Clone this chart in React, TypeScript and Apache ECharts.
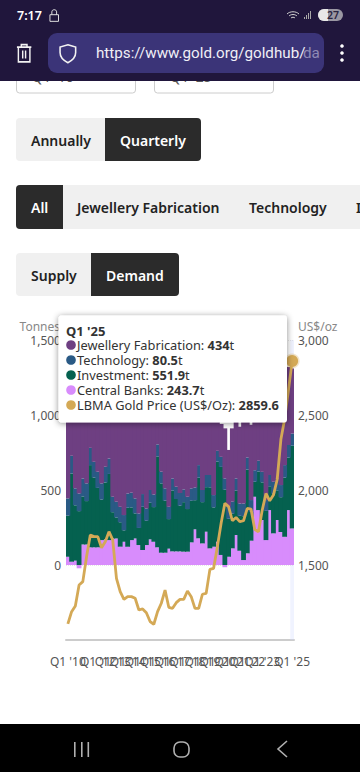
import React, { useEffect, useRef } from "react";
import * as echarts from "echarts";

const years = ["10","11","12","13","14","15","16","17","18","19","20","21","22","23","24"];
const quarters: string[] = [];
years.forEach((y) => ["Q1","Q2","Q3","Q4"].forEach((q) => quarters.push(`${q} '${y}`)));
quarters.push("Q1 '25");

const jewellery = [
  560,400,480,640, 560,480,480,540, 510,470,480,560, 620,640,620,660,
  590,570,540,640, 590,590,600,640, 490,480,500,600, 490,480,530,550,
  510,520,560,560, 530,530,500,560, 340,219,334,379, 489,490,512,560,
  480,502,560,590, 480,560,520,560, 480,450,440,520, 434,
];
const technology = [
  115,118,113,118, 120,118,115,105, 108,108,105,103, 103,105,103,102,
  96,98,100,97, 85,82,85,84, 80,78,82,82, 81,82,84,85,
  82,83,85,84, 81,81,82,82, 72,67,75,80, 80,81,82,85,
  81,79,77,72, 70,72,75,79, 79,81,83,84, 80.5,
];
const investment = [
  274,588,369,359, 320,289,548,465, 396,270,379,441, 175,140,163,76,
  259,218,167,114, 288,162,244,231, 606,462,347,197, 405,349,305,330,
  284,277,194,404, 275,297,407,262, 534,587,502,253, 231,296,233,292,
  558,192,100,257, 251,195,159,265, 198,232,395,350, 551.9,
];
const centralBanks = [
  55,22,29,-22, 137,137,118,118, 118,166,171,166, 177,177,122,155,
  122,166,177,133, 100,133,171,155, 118,82,82,109, 91,91,91,89,
  89,151,238,178, 144,222,111,122, 155,67,-15,55, 111,200,95,33,
  78,162,455,366, 300,166,366,211, 300,220,188,366, 243.7,
];
const goldPrice = [
  1107,1189,1227,1367, 1389,1555,1700,1689, 1689,1615,1655,1722, 1667,1411,1322,1271,
  1289,1289,1278,1200, 1207,1182,1123,1105, 1189,1245,1333,1218, 1211,1249,1271,1271,
  1327,1289,1211,1211, 1305,1311,1471,1478, 1622,1778,1911,1889, 1795,1817,1789,1795,
  1878,1873,1737,1722, 1866,1977,1928,1966, 2070,2338,2474,2663, 2859.6,
];

const PURPLE = "#6e3f82";
const BLUE = "#2a5a85";
const TEAL = "#05614f";
const PINK = "#d88cfc";
const GOLD = "#d4a956";
const FONT = '"Noto Sans", sans-serif';
const last = quarters.length - 1;

echarts.graphic.registerShape("trashIcon", echarts.graphic.extendPath("M2 5H22M8 5V2H16V5M4 5V23H20V5M10 9V19M14 9V19", {}));
echarts.graphic.registerShape("shieldIcon", echarts.graphic.extendPath("M12 1L22 4V11C22 17 18 21 12 24C6 21 2 17 2 11V4Z", {}));
echarts.graphic.registerShape("lockIcon", echarts.graphic.extendPath("M1 6H10V13H1ZM3 6V3C3 0 8 0 8 3V6", {}));
echarts.graphic.registerShape("wifiIcon", echarts.graphic.extendPath("M0 3C3 0 9 0 12 3M2 5C4 3 8 3 10 5M4 7C5 6 7 6 8 7", {}));

const rect = (x: number, y: number, w: number, h: number, fill: string, r: any = 0, extra: any = {}) => ({
  type: "rect", shape: { x, y, width: w, height: h, r }, style: { fill, ...extra }, z: 10,
});
const label = (text: string, x: number, y: number, fill: string, font = `600 14px ${FONT}`, z = 11, align = "left") => ({
  type: "text", x, y, z, style: { text, fill, font, textAlign: align, textVerticalAlign: "middle" },
});
const tipRow = (y: number, color: string, name: string, value: string, unit: string) => [
  { type: "circle", z: 101, shape: { cx: 71, cy: y, r: 4.8 }, style: { fill: color } },
  {
    type: "text", x: 77, y, z: 101,
    style: {
      text: `{n|${name}: }{b|${value}}{n|${unit}}`,
      textVerticalAlign: "middle",
      rich: {
        n: { font: `12.8px ${FONT}`, fill: "#333333" },
        b: { font: `bold 12.8px ${FONT}`, fill: "#333333" },
      },
    },
  },
];

const chrome: any[] = [
  { type: "rect", z: 1, shape: { x: 16.5, y: 60, width: 119, height: 33, r: 3 }, style: { fill: "#fff", stroke: "#cccccc" } },
  { type: "rect", z: 1, shape: { x: 154.5, y: 60, width: 119, height: 33, r: 3 }, style: { fill: "#fff", stroke: "#cccccc" } },
  label("Q1 '10", 32, 76, "#555555", `14px ${FONT}`, 2),
  label("Q1 '25", 170, 76, "#555555", `14px ${FONT}`, 2),
  rect(0, 0, 360, 81, "#20163c"),
  label("7:17", 17, 15, "#ffffff", `600 12.5px ${FONT}`),
  { type: "lockIcon", x: 49, y: 9, scaleX: 0.95, scaleY: 0.95, z: 11, style: { fill: "none", stroke: "#e6e6e6", lineWidth: 1 } },
  { type: "wifiIcon", x: 287, y: 11, z: 11, style: { fill: "none", stroke: "#cfcfcf", lineWidth: 1 } },
  rect(304, 17, 1, 2, "#a8a8a8"), rect(306, 15, 1, 4, "#a8a8a8"), rect(308, 13, 1, 6, "#a8a8a8"), rect(310, 11, 1, 8, "#a8a8a8"),
  rect(318, 9, 25, 12, "#9a97a3", 6),
  rect(318, 9, 10, 12, "#e8e8e8", [6, 0, 0, 6]),
  label("27", 333, 15, "#2a2440", `600 10.5px ${FONT}`, 12, "center"),
  { type: "trashIcon", x: 15.5, y: 43, scaleX: 0.72, scaleY: 0.82, z: 11, style: { fill: "none", stroke: "#f2f2f2", lineWidth: 2 } },
  rect(48, 33, 276, 40, "#3b3478", 9),
  { type: "shieldIcon", x: 58.5, y: 44, scaleX: 0.78, scaleY: 0.78, z: 11, style: { fill: "none", stroke: "#f2f2f2", lineWidth: 2 } },
  label("https://www.gold.org/goldhub/", 96, 53, "#f0eff6", `15.2px Roboto, ${FONT}`),
  label("da", 303, 53, "#8f8ab5", `15.2px Roboto, ${FONT}`),
  { type: "circle", z: 11, shape: { cx: 342, cy: 46, r: 1.8 }, style: { fill: "#fff" } },
  { type: "circle", z: 11, shape: { cx: 342, cy: 53, r: 1.8 }, style: { fill: "#fff" } },
  { type: "circle", z: 11, shape: { cx: 342, cy: 60, r: 1.8 }, style: { fill: "#fff" } },

  rect(16, 118, 185, 43, "#f0f0f0", 4),
  rect(105, 118, 96, 43, "#2b2b2b", [0, 4, 4, 0]),
  label("Annually", 31, 140, "#222222"),
  label("Quarterly", 120, 140, "#ffffff"),

  rect(16, 185, 344, 44, "#f0f0f0", [4, 0, 0, 4]),
  rect(16, 185, 47, 44, "#2b2b2b", [4, 0, 0, 4]),
  label("All", 31, 207, "#ffffff"),
  label("Jewellery Fabrication", 77, 207, "#222222"),
  label("Technology", 249, 207, "#222222"),
  label("Investment", 356, 207, "#222222"),

  rect(16, 253, 163, 43, "#f0f0f0", 4),
  rect(91, 253, 88, 43, "#2b2b2b", [0, 4, 4, 0]),
  label("Supply", 31, 275, "#222222"),
  label("Demand", 106, 275, "#ffffff"),

  rect(0, 724, 360, 48, "#000000"),
  rect(74, 742, 1.6, 15, "#b0b0b0"), rect(81, 742, 1.6, 15, "#b0b0b0"), rect(87.5, 742, 1.6, 15, "#b0b0b0"),
  { type: "rect", z: 11, shape: { x: 174, y: 742, width: 15, height: 15, r: 6 }, style: { fill: "none", stroke: "#b0b0b0", lineWidth: 1.6 } },
  { type: "polyline", z: 11, shape: { points: [[287, 741], [278, 749], [287, 757]] }, style: { fill: "none", stroke: "#b0b0b0", lineWidth: 1.6 } },

  { type: "rect", z: 100, shape: { x: 58.5, y: 315.5, width: 228.5, height: 107, r: 3 },
    style: { fill: "#ffffff", shadowBlur: 6, shadowColor: "rgba(0,0,0,0.45)", shadowOffsetX: 0, shadowOffsetY: 1 } },
  label(quarters[last], 66, 330.5, "#333333", `bold 13px ${FONT}`, 101),
  ...tipRow(345, PURPLE, "Jewellery Fabrication", String(jewellery[last]), "t"),
  ...tipRow(360, BLUE, "Technology", String(technology[last]), "t"),
  ...tipRow(375, TEAL, "Investment", String(investment[last]), "t"),
  ...tipRow(390, PINK, "Central Banks", String(centralBanks[last]), "t"),
  ...tipRow(405, GOLD, "LBMA Gold Price (US$/Oz)", String(goldPrice[last]), ""),
];

const barSeries = (name: string, data: number[], color: string) => ({
  name, type: "bar", stack: "demand", data, barWidth: 4.8, barGap: 0,
  itemStyle: { color }, silent: true,
});

export default function App() {
  const ref = useRef<HTMLDivElement>(null);
  useEffect(() => {
    const chart = echarts.init(ref.current!, undefined, { renderer: "svg" });
    const axisText = { color: "#555555", fontFamily: FONT, fontSize: 12 };
    chart.setOption({
      animation: false,
      backgroundColor: "#ffffff",
      textStyle: { fontFamily: FONT },
      grid: { left: 66, right: 66, top: 340, bottom: 132, containLabel: false },
      xAxis: {
        type: "category",
        data: quarters,
        boundaryGap: true,
        axisTick: { show: false },
        axisLine: { onZero: false, lineStyle: { color: "#cccccc", width: 2 } },
        axisLabel: { ...axisText, interval: 3, margin: 15, hideOverlap: false, showMinLabel: true, showMaxLabel: true },
        axisPointer: {
          show: true, type: "shadow", value: quarters[last], status: "show", triggerTooltip: false,
          label: { show: false }, shadowStyle: { color: "rgba(204,214,255,0.3)" }, z: 1,
        },
      },
      yAxis: [
        {
          type: "value", min: -500, max: 1500, interval: 500,
          name: "Tonnes", nameLocation: "end", nameGap: 8,
          nameTextStyle: { color: "#888888", fontFamily: FONT, fontSize: 12, align: "right", padding: [0, 6, 0, 0] },
          axisLine: { show: false }, axisTick: { show: false },
          axisLabel: { ...axisText, margin: 5, formatter: (v: number) => (v < 0 ? "" : v.toLocaleString("en-US")) },
          splitLine: { lineStyle: { color: "#e6e6e6", type: "dotted" } },
        },
        {
          type: "value", min: 1000, max: 3000, interval: 500, position: "right",
          name: "US$/oz", nameLocation: "end", nameGap: 8,
          nameTextStyle: { color: "#888888", fontFamily: FONT, fontSize: 12, align: "left", padding: [0, 0, 0, 4] },
          axisLine: { show: false }, axisTick: { show: false },
          axisLabel: { ...axisText, margin: 4, formatter: (v: number) => (v === 1000 ? "" : v.toLocaleString("en-US")) },
          splitLine: { show: false },
        },
      ],
      series: [
        barSeries("Central Banks", centralBanks, PINK),
        barSeries("Investment", investment, TEAL),
        barSeries("Technology", technology, BLUE),
        barSeries("Jewellery Fabrication", jewellery, PURPLE),
        {
          name: "LBMA Gold Price (US$/Oz)", type: "line", yAxisIndex: 1, data: goldPrice,
          z: 5, clip: false, silent: true, showAllSymbol: true,
          symbol: (_v: any, p: any) => (p.dataIndex === last ? "circle" : "none"),
          symbolSize: 12,
          itemStyle: { color: GOLD, borderColor: "rgba(212,169,86,0.3)", borderWidth: 3 },
          lineStyle: { color: GOLD, width: 2.8 },
        },
      ],
      graphic: { elements: chrome },
    });
    return () => chart.dispose();
  }, []);
  return (
    <div ref={ref} style={{ position: "absolute", left: 0, top: 0, width: 360, height: 772, overflow: "hidden" }} />
  );
}
